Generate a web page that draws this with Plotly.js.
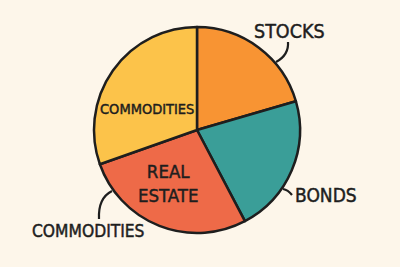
<!DOCTYPE html>
<html>
<head>
<meta charset="utf-8">
<script src="https://cdn.plot.ly/plotly-3.0.1.min.js"></script>
<style>
  html, body { margin: 0; padding: 0; background: #fdf6ea; }
  #chart { width: 400px; height: 267px; }
  #chart .annotation-text { stroke: #1e1e1e; stroke-width: 0.45px; }
</style>
</head>
<body>
<div id="chart"></div>
<script>
// Data (clockwise from 12 o'clock)
const labels = ['STOCKS', 'BONDS', 'REAL ESTATE', 'COMMODITIES'];
const values = [20.5, 21.8, 27.3, 30.4];
const sliceColors = ['#f89433', '#3a9e98', '#ee6a48', '#fcc34a'];
// Extra outside callout that appears in the reference
const extraCallout = 'COMMODITIES';

const W = 400, H = 267;
const px = x => x / W;
const py = y => 1 - y / H;

const ink = '#1e1e1e';
const font = { family: '"DejaVu Sans Condensed", sans-serif', color: ink };

function ann(text, x, y, size) {
  return {
    text: text, x: px(x), y: py(y), xref: 'paper', yref: 'paper',
    showarrow: false, xanchor: 'center', yanchor: 'middle',
    font: Object.assign({}, font, { size: size })
  };
}

function pathP(pts) {
  return pts.map(p => p[0] + ' ' + p.slice(1).reduce((acc, v, i) => {
    acc.push(i % 2 === 0 ? px(v).toFixed(4) : py(v).toFixed(4));
    return acc;
  }, []).join(',')).join(' ');
}

const trace = {
  type: 'pie',
  labels: labels,
  values: values,
  sort: false,
  direction: 'clockwise',
  rotation: 0,
  textinfo: 'none',
  hoverinfo: 'label+percent',
  marker: { colors: sliceColors, line: { color: ink, width: 2.5 } },
  domain: { x: [px(94), px(300)], y: [py(233), py(27)] },
  showlegend: false
};

const layout = {
  width: W, height: H,
  margin: { l: 0, r: 0, t: 0, b: 0 },
  paper_bgcolor: '#fdf6ea',
  plot_bgcolor: '#fdf6ea',
  showlegend: false,
  annotations: [
    ann(labels[0], 289, 31, 19.5),
    ann(labels[1], 326, 195, 19),
    ann('REAL<br>ESTATE', 168, 183, 18.5),
    ann(labels[3], 147, 108.5, 14.5),
    ann(extraCallout, 88, 231, 17.3)
  ],
  shapes: [
    { type: 'path', xref: 'paper', yref: 'paper',
      path: pathP([['M', 276, 62], ['Q', 289, 55, 288, 42]]),
      line: { color: ink, width: 2.2 } },
    { type: 'path', xref: 'paper', yref: 'paper',
      path: pathP([['M', 283, 189], ['Q', 288, 190, 292, 195]]),
      line: { color: ink, width: 2.2 } },
    { type: 'path', xref: 'paper', yref: 'paper',
      path: pathP([['M', 112, 191], ['Q', 98, 198, 99, 219]]),
      line: { color: ink, width: 2.2 } }
  ]
};

Plotly.newPlot('chart', [trace], layout, { displayModeBar: false, staticPlot: true });
</script>
</body>
</html>
